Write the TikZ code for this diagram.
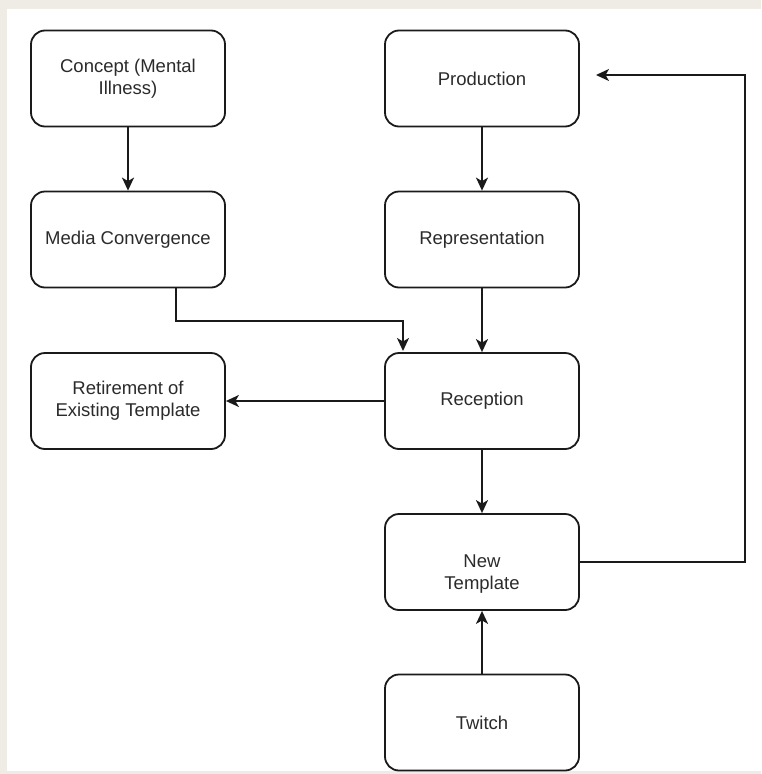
\documentclass[tikz,border=0pt]{standalone}
\usepackage{fontspec}
\setmainfont{Liberation Sans}
\usetikzlibrary{arrows.meta}
\definecolor{frame}{HTML}{EFECE5}
\definecolor{ink}{HTML}{1A1A1A}
\definecolor{txt}{HTML}{2B2B2B}
\begin{document}
\begin{tikzpicture}[x=1pt,y=-1pt,
  lbl/.style={text=txt,align=center,font=\fontsize{18.5}{22}\selectfont},
  box/.style={lbl,draw=ink,line width=1.8pt,rounded corners=14pt,minimum width=194pt,minimum height=96pt,inner sep=0pt},
  conn/.style={draw=ink,line width=1.8pt,-{Stealth[length=13pt,width=12pt,inset=3.5pt]}}]
\useasboundingbox (0,0) rectangle (761,774);
\fill[frame] (0,0) rectangle (761,774);
\fill[white] (7,9) rectangle (761,771);
\node[box] (concept) at (128,78.5) {Concept (Mental\\Illness)};
\node[box] (prod) at (482,78.5) {Production};
\node[box] (media) at (128,239.5) {Media Convergence};
\node[box] (repr) at (482,239.5) {Representation};
\node[box] (retire) at (128,401) {Retirement of\\Existing Template};
\node[box] (recep) at (482,401) {Reception};
\node[box] (newt) at (482,562) {};
\node[lbl] (newtl) at (482,574) {New\\Template};
\node[box] (twitch) at (482,722.5) {Twitch};
\coordinate (mc1) at (176,321);
\coordinate (mc2) at (403,321);
\coordinate (mcend) at (403,351);
\coordinate (r1) at (745,562);
\coordinate (r2) at (745,75);
\coordinate (rend) at (596,75);
\draw[conn] (concept) -- (media);
\draw[conn] (prod) -- (repr);
\draw[conn] (repr) -- (recep);
\draw[conn] (media.south -| mc1) -- (mc1) -- (mc2) -- (mcend);
\draw[conn] (recep) -- (retire);
\draw[conn] (recep) -- (newt);
\draw[conn] (twitch) -- (newt);
\draw[conn] (newt.east) -- (r1) -- (r2) -- (rend);
\end{tikzpicture}
\end{document}
